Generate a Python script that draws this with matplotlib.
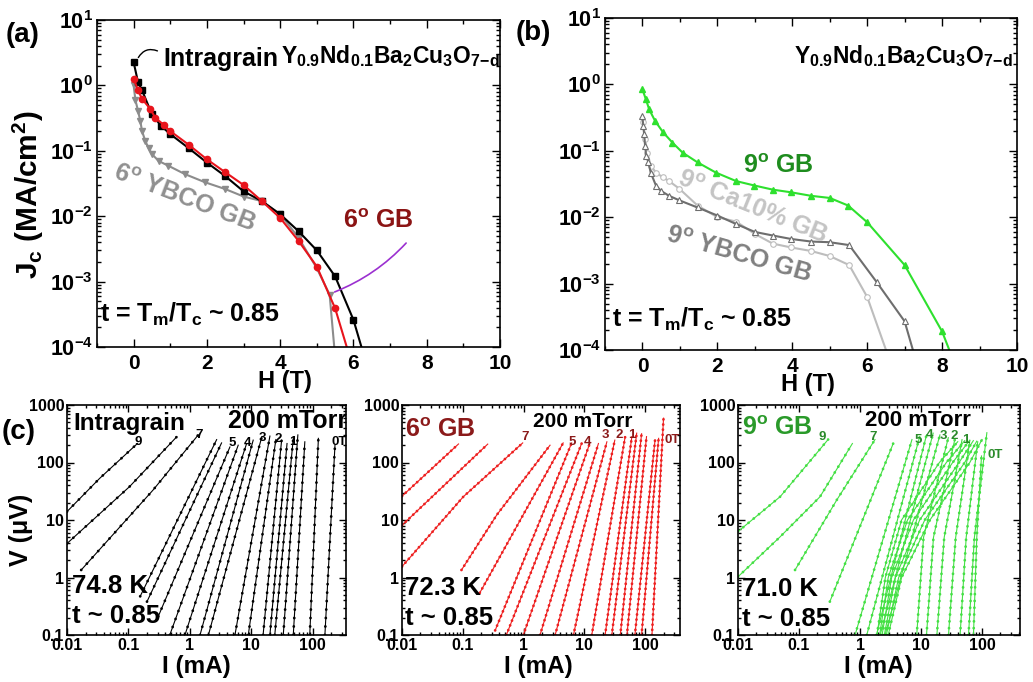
import matplotlib
matplotlib.use('Agg')
import matplotlib.pyplot as plt
import numpy as np
from matplotlib.ticker import MultipleLocator, LogLocator, FixedLocator, NullFormatter, FuncFormatter

W, H = 1033, 682

plt.rcParams['font.family'] = ['Liberation Sans', 'DejaVu Sans']
plt.rcParams['font.weight'] = 'bold'
plt.rcParams['mathtext.default'] = 'regular'
plt.rcParams['axes.linewidth'] = 1.2

# ---- panel (a): Jc(H) ----
H_intra = [0, 0.12, 0.23, 0.5, 0.75, 1.0, 1.5, 2.0, 2.5, 3.0, 3.5, 4.0, 4.5, 5.0, 5.5, 6.0, 6.3]
Jc_intra = [2.26, 1.12, 0.84, 0.36, 0.24, 0.18, 0.11, 0.066, 0.041, 0.024, 0.017, 0.0107,
            0.0059, 0.0030, 0.0012, 2.6e-4, 7e-5]
H_6gb = [0, 0.12, 0.23, 0.45, 0.59, 0.82, 1.0, 1.5, 2.0, 2.5, 3.0, 3.5, 4.0, 4.5, 5.0, 5.5, 5.9]
Jc_6gb = [1.27, 0.84, 0.62, 0.44, 0.32, 0.25, 0.20, 0.124, 0.074, 0.047, 0.030, 0.017, 0.0094,
          0.0042, 0.0017, 3.9e-4, 7e-5]
H_6ybco = [0, 0.05, 0.12, 0.18, 0.23, 0.32, 0.41, 0.5, 0.68, 0.95, 1.4, 1.95, 2.5, 3.0, 3.5,
           4.0, 4.5, 5.0, 5.35, 5.5]
Jc_6ybco = [1.0, 0.59, 0.41, 0.29, 0.20, 0.14, 0.11, 0.089, 0.07, 0.059, 0.044, 0.033, 0.026,
            0.020, 0.017, 0.0107, 0.0047, 0.0016, 6.3e-4, 7e-5]

# ---- panel (b) ----
H_9gb = [0, 0.09, 0.18, 0.34, 0.55, 0.8, 1.07, 1.47, 1.96, 2.5, 2.99, 3.48, 3.97, 4.5, 5.0,
         5.49, 6.0, 7.0, 8.0, 8.3]
Jc_9gb = [0.84, 0.6, 0.42, 0.28, 0.19, 0.133, 0.094, 0.067, 0.047, 0.035, 0.030, 0.026, 0.0237,
          0.021, 0.0195, 0.015, 0.0084, 0.0019, 1.9e-4, 7e-5]
H_9ybco = [0, 0.02, 0.045, 0.07, 0.1, 0.16, 0.22, 0.36, 0.49, 0.71, 0.98, 1.47, 2.0, 2.5, 3.0,
           3.48, 3.97, 4.5, 5.0, 5.52, 6.25, 7.0, 7.3]
Jc_9ybco = [0.33, 0.24, 0.18, 0.12, 0.084, 0.067, 0.047, 0.030, 0.025, 0.021, 0.018, 0.014,
            0.0106, 0.0079, 0.006, 0.0053, 0.0047, 0.0043, 0.0042, 0.0038, 0.00106, 2.7e-4, 7e-5]
H_9ca = [0.02, 0.07, 0.13, 0.22, 0.36, 0.54, 0.71, 0.98, 1.47, 2.0, 2.5, 3.0, 3.48, 3.97, 4.5,
         5.0, 5.52, 6.0, 6.6]
Jc_9ca = [0.27, 0.15, 0.094, 0.06, 0.047, 0.04, 0.035, 0.027, 0.015, 0.01, 0.0086, 0.0056,
          0.004, 0.0035, 0.0031, 0.0026, 0.0019, 6.3e-4, 7e-5]

# ---- panel (c): V-I curves, (I mA, V uV) read points ----
c1_curves = [
    ([0.01, 0.034, 0.14], [14, 53, 214]),
    ([0.01, 0.104, 0.61], [3.9, 38, 280]),
    ([0.017, 0.25, 1.36], [1.35, 33, 300]),
    ([0.155, 2.72], [0.47, 250]),
    ([0.20, 3.27], [0.38, 219]),
    ([0.305, 4.47], [0.21, 186]),
    ([0.47, 6.1], [0.1, 200]),
    ([0.83, 8.3], [0.1, 209]),
    ([1.46, 10.7], [0.1, 245]),
    ([2.0, 14.8], [0.1, 282]),
    ([5.4, 20], [0.1, 288]),
    ([8.9, 25], [0.1, 251]),
    ([15.5, 31], [0.1, 245]),
    ([20, 38], [0.1, 214]),
    ([24, 48], [0.1, 263]),
    ([33, 57], [0.1, 302]),
    ([48, 74], [0.1, 229]),
    ([89, 123], [0.1, 263]),
    ([157, 229], [0.1, 200]),
]
c2_curves = [
    ([0.01, 0.085], [26, 210]),
    ([0.01, 0.257], [8.1, 209]),
    ([0.01, 0.102, 0.966], [1.55, 25.4, 219]),
    ([0.095, 0.363, 2.72], [1.35, 12.3, 200]),
    ([0.19, 4.47], [0.54, 219]),
    ([0.34, 6.17], [0.12, 219]),
    ([0.52, 9.0], [0.1, 214]),
    ([0.99, 12.3], [0.1, 219]),
    ([1.86, 17.0], [0.1, 214]),
    ([3.3, 23.4], [0.1, 229]),
    ([6.6, 31.6], [0.1, 245]),
    ([13.2, 46.8], [0.1, 282]),
    ([21.9, 60.3], [0.1, 282]),
    ([28.2, 72.4], [0.1, 324]),
    ([38.9, 87.1], [0.1, 316]),
    ([50, 105], [0.1, 282]),
    ([67.6, 145], [0.1, 245]),
    ([87, 166], [0.1, 263]),
    ([129, 200], [0.1, 590]),
]
c3_curves = [
    ([0.01, 0.049, 0.30], [6.3, 25.4, 251]),
    ([0.01, 0.049, 0.221, 0.75], [1.03, 5.1, 25.4, 214]),
    ([0.086, 0.417, 1.76], [1.35, 22.4, 251]),
    ([0.32, 3.5], [0.38, 214]),
    ([0.83, 7.1], [0.1, 251]),
    ([1.29, 9.5], [0.1, 282]),
    ([1.86, 12.3], [0.1, 302]),
    ([2.14, 15.8], [0.1, 324]),
    ([2.57, 20.4], [0.1, 302]),
    ([1.9, 2.6, 4.8, 20, 40], [0.1, 1, 10, 100, 230]),
    ([2.1, 2.9, 6.0, 26, 52], [0.1, 1, 10, 100, 240]),
    ([2.3, 3.3, 7.5, 33, 63], [0.1, 1, 10, 100, 245]),
    ([2.5, 3.8, 9.5, 42, 72], [0.1, 1, 10, 100, 240]),
    ([2.7, 4.3, 11.5, 52, 82], [0.1, 1, 10, 100, 235]),
    ([2.9, 4.8, 14, 63, 100], [0.1, 1, 10, 100, 251]),
    ([8.5, 11, 28], [0.1, 5, 270]),
    ([12.3, 16, 36], [0.1, 5, 260]),
    ([18.2, 24, 47], [0.1, 5, 250]),
    ([28.2, 37, 63], [0.1, 5, 240]),
    ([43.7, 55, 85], [0.1, 5, 230]),
    ([60, 75, 120], [0.1, 5, 330]),
    ([72.4, 82, 98], [0.1, 5, 130]),
]

fig = plt.figure(figsize=(W / 100, H / 100), dpi=100)


def box(l, t, r, b):
    return [l / W, 1 - b / H, (r - l) / W, (b - t) / H]


def ptext(x, y, s, **kw):
    # place text at image pixel position (y from top)
    return fig.text(x / W, 1 - y / H, s, **kw)


ax_a = fig.add_axes(box(97, 20, 500, 347))
ax_b = fig.add_axes(box(605, 18, 1017, 350))
ax_c1 = fig.add_axes(box(67, 405, 346, 635))
ax_c2 = fig.add_axes(box(402, 405, 680, 635))
ax_c3 = fig.add_axes(box(738, 405, 1020, 635))

for ax in (ax_a, ax_b):
    ax.set_yscale('log')
    ax.set_xlim(-1, 10)
    ax.set_ylim(1e-4, 10)
    ax.xaxis.set_major_locator(MultipleLocator(2))
    ax.xaxis.set_minor_locator(MultipleLocator(1))
    ax.yaxis.set_major_locator(LogLocator(base=10, numticks=10))
    ax.yaxis.set_minor_locator(LogLocator(base=10, subs=np.arange(2, 10), numticks=20))
    ax.yaxis.set_minor_formatter(NullFormatter())
    ax.tick_params(which='both', direction='in', top=True, right=True, width=1)
    ax.tick_params(which='major', length=6)
    ax.tick_params(which='minor', length=3)
    ax.tick_params(axis='x', labelsize=15, pad=5)
    ax.tick_params(axis='y', labelsize=15.5, pad=3)

# panel (a)
ax_a.plot(H_6ybco, Jc_6ybco, color='#8c8c8c', lw=1.5, marker='v', ms=4.5)
ax_a.plot(H_intra, Jc_intra, color='black', lw=1.5, marker='s', ms=4)
ax_a.plot(H_6gb, Jc_6gb, color='#e8141c', lw=1.5, marker='o', ms=4.5)
ax_a.annotate('', xy=(332, H - 293), xycoords='figure pixels',
              xytext=(408, H - 241), textcoords='figure pixels',
              arrowprops=dict(arrowstyle='-', color='#9b30d0', lw=1.2,
                              connectionstyle='arc3,rad=-0.12'))
ax_a.annotate('', xy=(137, H - 60), xycoords='figure pixels',
              xytext=(160, H - 52), textcoords='figure pixels',
              arrowprops=dict(arrowstyle='-', color='black', lw=1.0,
                              connectionstyle='arc3,rad=0.5'))

# panel (b)
ax_b.plot(H_9ca, Jc_9ca, color='#bdbdbd', lw=1.5, marker='o', ms=4, mfc='white', mew=0.8)
ax_b.plot(H_9ybco, Jc_9ybco, color='#6e6e6e', lw=1.5, marker='^', ms=5, mfc='white', mew=0.8)
ax_b.plot(H_9gb, Jc_9gb, color='#2ee02e', lw=1.5, marker='^', ms=5)


def iv(ax, I, V, color, gap):
    ax.plot(I, V, color=color, lw=0.8)
    ax.plot(I, V, color=color, lw=2.0, ls=(0, (0.05, gap)), dash_capstyle='round')


for ax, curves, col, gap, right in ((ax_c1, c1_curves, 'black', 3.0, 346),
                                    (ax_c2, c2_curves, '#ee2020', 1.8, 373),
                                    (ax_c3, c3_curves, '#44e044', 2.4, 419)):
    for I, V in curves:
        iv(ax, I, V, col, gap)
    ax.set_xscale('log')
    ax.set_yscale('log')
    ax.set_xlim(0.01, right)
    ax.set_ylim(0.1, 1000)
    ax.xaxis.set_major_locator(FixedLocator([0.01, 0.1, 1, 10, 100]))
    ax.yaxis.set_major_locator(FixedLocator([0.1, 1, 10, 100, 1000]))
    for a in (ax.xaxis, ax.yaxis):
        a.set_minor_locator(LogLocator(base=10, subs=np.arange(2, 10), numticks=20))
        a.set_minor_formatter(NullFormatter())
        a.set_major_formatter(FuncFormatter(lambda v, p: '%g' % v))
    ax.tick_params(which='both', direction='in', top=True, right=True, width=1,
                   labelsize=11.5, pad=2)
    ax.tick_params(which='major', length=5)
    ax.tick_params(which='minor', length=2.5)

# text: panel labels and axis labels
ptext(6, 35, '(a)', fontsize=20, va='center')
ptext(516, 33, '(b)', fontsize=20, va='center')
ptext(2, 432, '(c)', fontsize=20, va='center')
ptext(28, 195, 'J$_c$ (MA/cm$^2$)', fontsize=21.5, rotation=90, ha='center', va='center')
ptext(21, 530, 'V (μV)', fontsize=18, rotation=90, ha='center', va='center')
ptext(285, 382, 'H (T)', fontsize=17, ha='center', va='center')
ptext(808, 384, 'H (T)', fontsize=17, ha='center', va='center')
for xc in (196, 538, 878):
    ptext(xc, 667, 'I (mA)', fontsize=17.5, ha='center', va='center')

formula = 'Y$_{0.9}$Nd$_{0.1}$Ba$_2$Cu$_3$O$_{7\\!-\\!d}$'
ptext(163, 66, 'Intragrain', fontsize=18, va='baseline')
ptext(281, 63, formula, fontsize=16.5, va='baseline')
ptext(1013, 63, formula, fontsize=16.5, va='baseline', ha='right')
ptext(100, 322, 't = T$_m$/T$_c$ ~ 0.85', fontsize=18, va='baseline')
ptext(612, 327, 't = T$_m$/T$_c$ ~ 0.85', fontsize=18, va='baseline')
ptext(343, 228, '6$^o$ GB', fontsize=18, va='baseline', color='#8b1414')
ptext(184, 198, '6$^o$ YBCO GB', fontsize=18, ha='center', va='center', rotation=-21,
      color='#909090')
ptext(743, 173, '9$^o$ GB', fontsize=18, va='baseline', color='#1e8c1e')
ptext(752, 208, '9$^o$ Ca10% GB', fontsize=18, ha='center', va='center', rotation=-22,
      color='#c4c4c4')
ptext(739, 255, '9$^o$ YBCO GB', fontsize=18, ha='center', va='center', rotation=-16,
      color='#808080')

# panel c texts
ptext(73, 430, 'Intragrain', fontsize=17.5, va='baseline')
ax_c1.text((228 - 67) / 279, 1 - (428 - 405) / 230, '200 mTorr', fontsize=18,
           transform=ax_c1.transAxes, va='baseline', clip_on=True)
ptext(72, 593, '74.8 K', fontsize=18.5, va='baseline')
ptext(72, 623, 't ~ 0.85', fontsize=18.5, va='baseline')

ptext(405, 437, '6$^o$ GB', fontsize=18, va='baseline', color='#8b1a1a')
ptext(533, 427, '200 mTorr', fontsize=15, va='baseline')
ptext(405, 595, '72.3 K', fontsize=18.5, va='baseline')
ptext(405, 625, 't ~ 0.85', fontsize=18.5, va='baseline')

ptext(742, 435, '9$^o$ GB', fontsize=18, va='baseline', color='#2a9a2a')
ptext(865, 426, '200 mTorr', fontsize=16, va='baseline')
ptext(742, 596, '71.0 K', fontsize=18.5, va='baseline')
ptext(742, 626, 't ~ 0.85', fontsize=18.5, va='baseline')

c1_lab = [('9', 138, 442), ('7', 199, 435), ('5', 232, 443), ('4', 247, 443), ('3', 262, 438),
          ('2', 278, 439), ('1', 293, 442), ('0T', 339, 442)]
c2_lab = [('7', 525, 437), ('5', 572, 442), ('4', 588, 442), ('3', 605, 435), ('2', 619, 435),
          ('1', 632, 435), ('0T', 672, 440)]
c3_lab = [('9', 822, 437), ('7', 873, 437), ('5', 918, 440), ('4', 929, 435), ('3', 943, 436),
          ('2', 954, 436), ('1', 966, 440), ('0T', 995, 455)]
for labs, col in ((c1_lab, 'black'), (c2_lab, '#8b1a1a'), (c3_lab, '#2a8a2a')):
    for s, x, y in labs:
        ptext(x, y, s, fontsize=9.5, ha='center', va='center', color=col)

fig.savefig('out.png', dpi=100)
